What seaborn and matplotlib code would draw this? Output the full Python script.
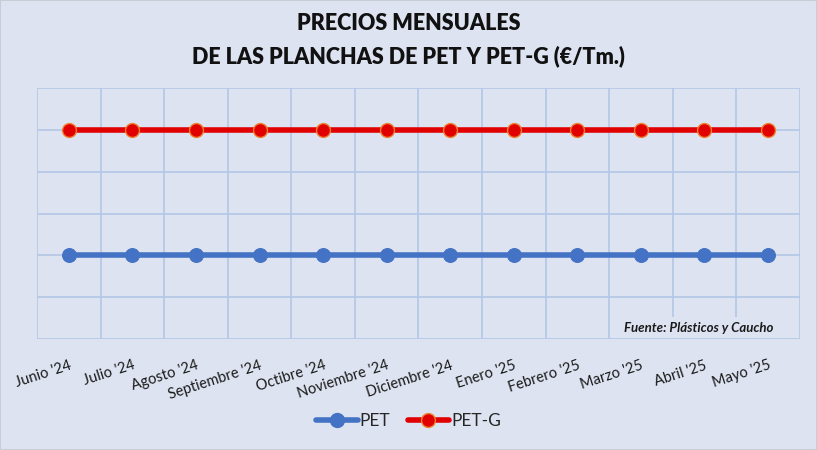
import pandas as pd
import seaborn as sns
import matplotlib.pyplot as plt
from matplotlib.lines import Line2D

# ---------- Data ----------
MONTHS = ["Junio '24", "Julio '24", "Agosto '24", "Septiembre '24", "Octibre '24",
          "Noviembre '24", "Diciembre '24", "Enero '25", "Febrero '25", "Marzo '25",
          "Abril '25", "Mayo '25"]
PET = [2, 2, 2, 2, 2, 2, 2, 2, 2, 2, 2, 2]
PET_G = [5, 5, 5, 5, 5, 5, 5, 5, 5, 5, 5, 5]

BG = "#DDE3F1"
GRID = "#B4C7E7"
BLUE = "#4472C4"
RED = "#E00000"


def main():
    sns.set_theme(style="white")
    plt.rcParams["font.family"] = ["Lato", "DejaVu Sans"]

    df = pd.DataFrame({"mes": MONTHS * 2,
                       "precio": PET + PET_G,
                       "serie": ["PET"] * len(MONTHS) + ["PET-G"] * len(MONTHS)})

    fig = plt.figure(figsize=(8.17, 4.5), dpi=100, facecolor=BG)
    ax = fig.add_axes([0.0453, 0.2467, 0.9337, 0.5577])
    ax.set_facecolor(BG)

    sns.lineplot(data=df[df.serie == "PET"], x="mes", y="precio", ax=ax,
                 color=BLUE, linewidth=4, marker="o", markersize=10,
                 markeredgecolor=BLUE, legend=False, zorder=3)
    sns.lineplot(data=df[df.serie == "PET-G"], x="mes", y="precio", ax=ax,
                 color=RED, linewidth=4, marker="o", markersize=10,
                 markeredgecolor="#F08030", markeredgewidth=1, legend=False, zorder=3)

    ax.set_xlim(-0.5, len(MONTHS) - 0.5)
    ax.set_ylim(0, 6)
    ax.set_yticks(range(0, 7))
    ax.set_yticklabels([])
    ax.set_xticks(range(len(MONTHS)))
    ax.set_xticks([i - 0.5 for i in range(len(MONTHS) + 1)], minor=True)
    ax.set_xticklabels(MONTHS, rotation=18, ha="right", rotation_mode="anchor",
                       fontsize=10.5, color="#1a1a1a")
    ax.tick_params(axis="both", which="both", length=0)
    ax.tick_params(axis="x", which="major", pad=14)
    ax.grid(False)
    ax.grid(True, axis="y", which="major", color=GRID, linewidth=1.2, zorder=0)
    ax.grid(True, axis="x", which="minor", color=GRID, linewidth=1.2, zorder=0)
    for s in ax.spines.values():
        s.set_visible(False)
    ax.set_xlabel("")
    ax.set_ylabel("")

    ax.text(0.965, 0.045, "Fuente: Plásticos y Caucho", transform=ax.transAxes,
            ha="right", va="center", fontsize=9.5, fontweight="bold", style="italic",
            color="#1a1a1a", zorder=5,
            bbox=dict(facecolor=BG, edgecolor="none", pad=3))

    fig.text(0.5, 0.948, "PRECIOS MENSUALES", ha="center", va="center",
             fontsize=15.5, fontweight="heavy", color="#111111")
    fig.text(0.5, 0.874, "DE LAS PLANCHAS DE PET Y PET-G (€/Tm.)", ha="center",
             va="center", fontsize=15.5, fontweight="heavy", color="#111111")

    handles = [Line2D([], [], color=BLUE, linewidth=4, marker="o", markersize=10,
                      markeredgecolor=BLUE),
               Line2D([], [], color=RED, linewidth=4, marker="o", markersize=10,
                      markeredgecolor="#F08030")]
    fig.legend(handles, ["PET", "PET-G"], loc="center", bbox_to_anchor=(0.5, 0.065),
               ncol=2, frameon=False, fontsize=12.5, handlelength=2.4,
               handletextpad=0.1, columnspacing=1.0)

    # thin outer border
    fig.patches.append(plt.Rectangle((0, 0), 1, 1, transform=fig.transFigure,
                                     fill=False, edgecolor="#C8CCD4", linewidth=1.5))

    fig.savefig("out.png", dpi=100, facecolor=BG)
    plt.close(fig)


if __name__ == "__main__":
    main()
